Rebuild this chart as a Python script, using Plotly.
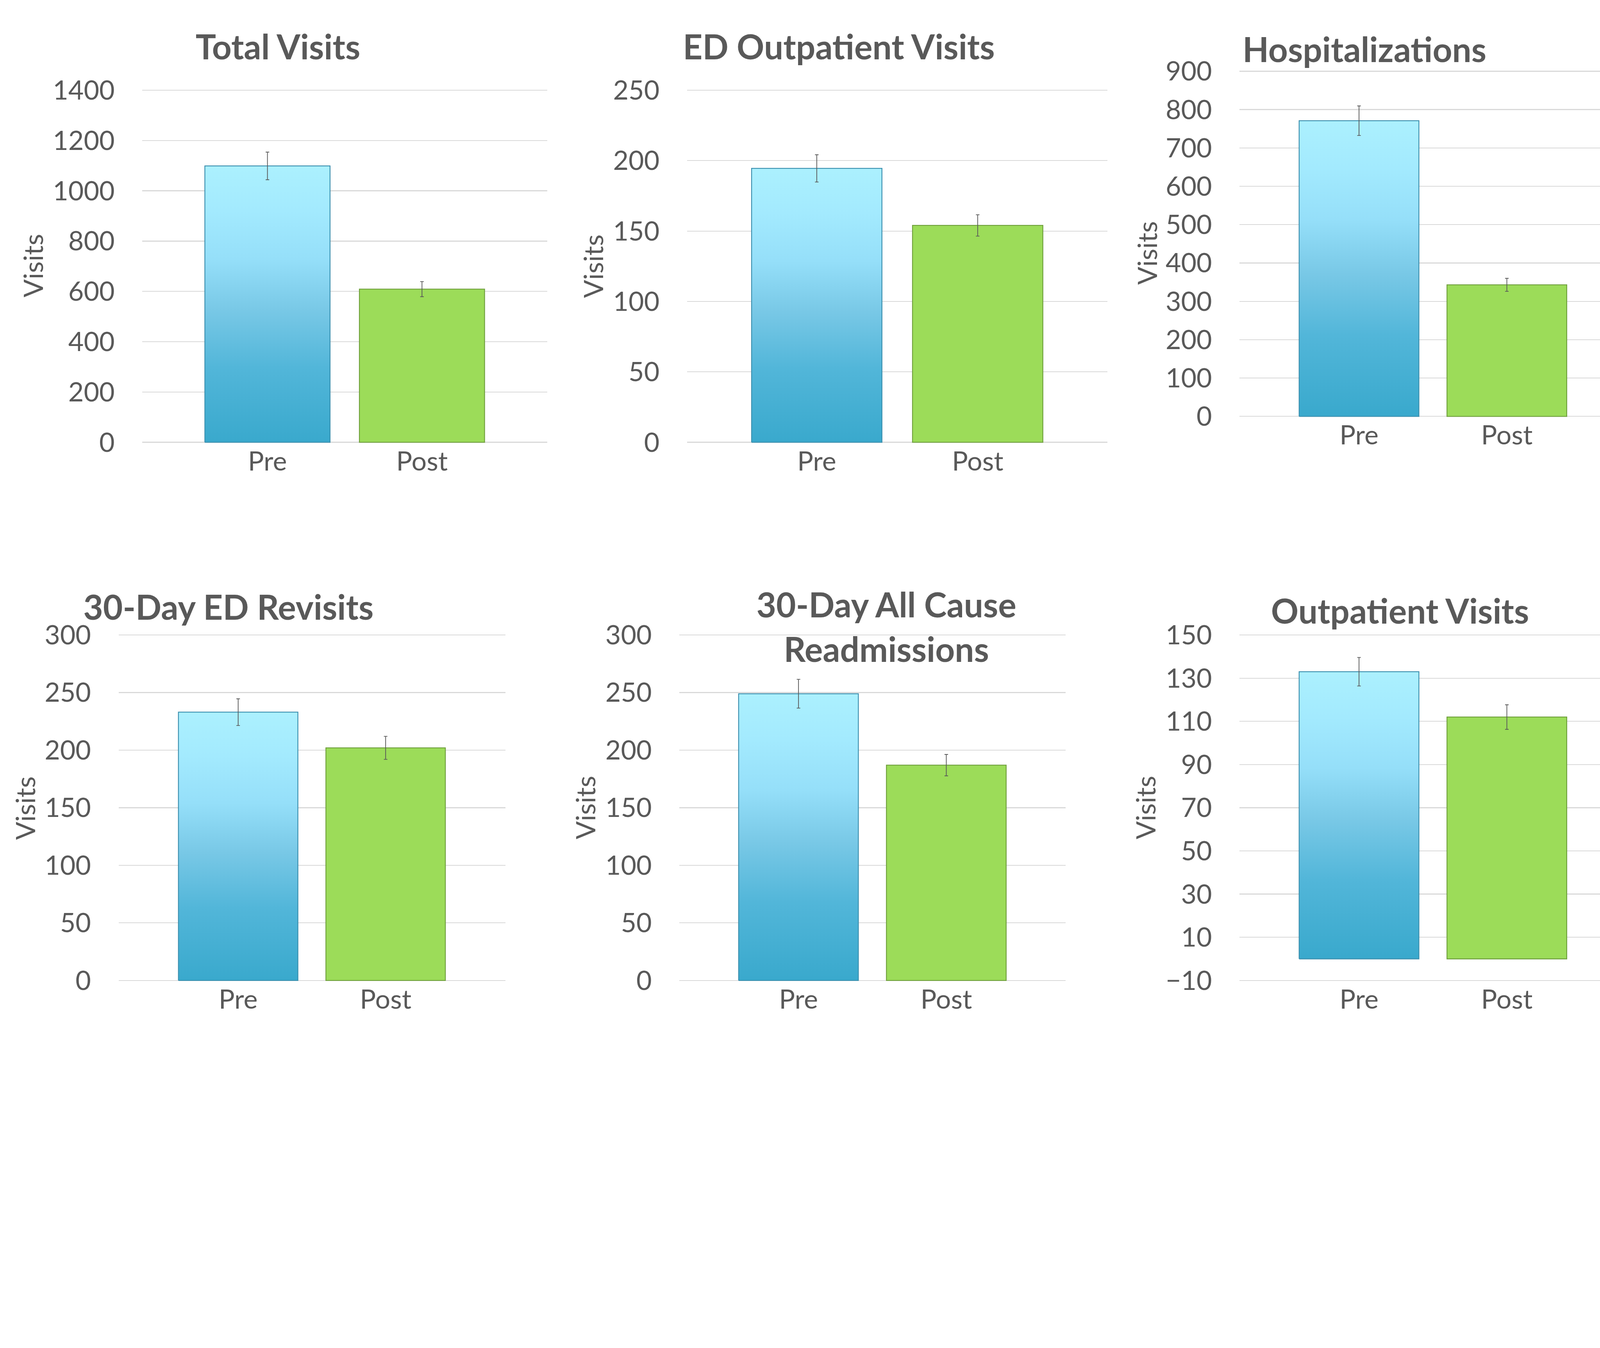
import plotly.graph_objects as go

# reference canvas in pixels
W, H = 5398, 3452

categories = ["Pre", "Post"]
titles = ["Total Visits", "ED Outpatient Visits", "Hospitalizations",
          "30-Day ED Revisits", "30-Day All Cause<br>Readmissions", "Outpatient Visits"]
pre_values = [1099, 194.5, 771, 233, 249, 133]
post_values = [609, 154, 343, 202, 187, 112]
pre_errors = [55, 9.7, 38.5, 11.6, 12.5, 6.6]
post_errors = [30, 7.6, 17, 10, 9.3, 5.7]
y_ranges = [(0, 1400), (0, 250), (0, 900), (0, 300), (0, 300), (-10, 150)]
y_dticks = [200, 50, 100, 50, 50, 20]
axis_title = "Visits"

# layout geometry (reference pixels)
plot_left = [480, 2318, 4182, 400, 2292, 4182]
plot_right = [1846, 3736, 5398, 1705, 3595, 5398]
plot_top = [258, 258, 192, 2152, 2152, 2152]
plot_bottom = [1482, 1482, 1392, 3353, 3353, 3353]
x_ranges = [(-0.81, 1.81), (-0.806, 1.806), (-0.808, 1.63),
            (-0.811, 1.812), (-0.806, 1.807), (-0.808, 1.63)]
title_pos = [(938, 104), (2830, 104), (4603, 113), (770, 2053), (2990, 2122), (4723, 2065)]
ytitle_pos = [(109, 868), (2000, 870), (3869, 824), (84, 2754), (1974, 2752), (3864, 2752)]

BAR_W = 0.81
TEXT = "#595959"
GRID = "#d9d9d9"
FONT = "Lato"
GREEN = "#9cdc59"
PRE_SCALE = [[0.0, "#36a7cb"], [0.3, "#52b6d9"], [0.5, "#78c8e6"],
             [0.68, "#95dff9"], [0.85, "#a3eafe"], [1.0, "#abf0fe"]]
PAD = 4  # px: keeps edge gridlines from being clipped

TICK_SIZE = 90
TITLE_SIZE = 115

fig = go.Figure()
layout = dict(width=W, height=H, margin=dict(l=0, r=0, t=0, b=0, pad=0),
              paper_bgcolor="white", plot_bgcolor="white", showlegend=False,
              annotations=[])

for k in range(6):
    s = "" if k == 0 else str(k + 1)
    xa, ya = "x" + s, "y" + s
    lo, hi = y_ranges[k]
    px_h = plot_bottom[k] - plot_top[k]
    d = (hi - lo) * PAD / px_h
    xdom = [plot_left[k] / W, min(1.0, plot_right[k] / W)]
    ydom = [1 - (plot_bottom[k] + PAD) / H, 1 - (plot_top[k] - PAD) / H]
    layout["xaxis" + s] = dict(domain=xdom, anchor=ya, range=list(x_ranges[k]),
                               tickvals=[0, 1], ticktext=categories,
                               showgrid=False, zeroline=False, showline=False,
                               ticks="", tickfont=dict(family=FONT, size=TICK_SIZE, color=TEXT),
                               fixedrange=True)
    layout["yaxis" + s] = dict(domain=ydom, anchor=xa, range=[lo - d, hi + d],
                               tick0=lo, dtick=y_dticks[k],
                               showgrid=True, gridcolor=GRID, gridwidth=2.5,
                               zeroline=False, showline=False, ticks="",
                               ticklabelstandoff=92,
                               tickfont=dict(family=FONT, size=TICK_SIZE, color=TEXT),
                               fixedrange=True)

    # Post bar (solid green)
    fig.add_trace(go.Bar(x=[1], y=[post_values[k]], width=BAR_W, base=0,
                         marker=dict(color=GREEN, line=dict(color="#6f9f3c", width=3)),
                         xaxis=xa, yaxis=ya))
    # Pre bar: gradient-filled rectangle built from the value
    x0, x1 = 0 - BAR_W / 2, 0 + BAR_W / 2
    v = pre_values[k]
    fig.add_trace(go.Scatter(x=[x0, x0, x1, x1, x0], y=[0, v, v, 0, 0],
                             mode="lines", fill="toself",
                             fillgradient=dict(type="vertical", colorscale=PRE_SCALE,
                                               start=0, stop=v),
                             line=dict(color="#3b8fae", width=3),
                             xaxis=xa, yaxis=ya, hoverinfo="skip"))
    # error bars
    fig.add_trace(go.Scatter(x=[0, 1], y=[pre_values[k], post_values[k]], mode="markers",
                             marker=dict(size=1, opacity=0),
                             error_y=dict(type="data", array=[pre_errors[k], post_errors[k]],
                                          color=TEXT, thickness=2.5, width=6),
                             xaxis=xa, yaxis=ya))

    tx, ty = title_pos[k]
    layout["annotations"].append(dict(
        text=titles[k], x=tx / W, y=1 - ty / H, xref="paper", yref="paper",
        xanchor="center", yanchor="middle", showarrow=False,
        font=dict(family=FONT, size=TITLE_SIZE, color=TEXT, weight="bold")))
    yx, yy = ytitle_pos[k]
    layout["annotations"].append(dict(
        text=axis_title, x=yx / W, y=1 - yy / H, xref="paper", yref="paper",
        xanchor="center", yanchor="middle", showarrow=False, textangle=-90,
        font=dict(family=FONT, size=TICK_SIZE, color=TEXT)))

fig.update_layout(**layout)

# fit the fixed-size figure into the CSS viewport the browser actually has
fit_script = """
document.documentElement.style.margin = '0';
document.body.style.margin = '0';
document.body.style.overflow = 'hidden';
var k = Math.min(window.innerWidth / %d, window.innerHeight / %d);
if (k > 0 && Math.abs(k - 1) > 0.002) { document.body.style.zoom = k; }
""" % (W, H)

fig.write_html("out.html", post_script=fit_script,
               config={"displayModeBar": False, "responsive": False})
